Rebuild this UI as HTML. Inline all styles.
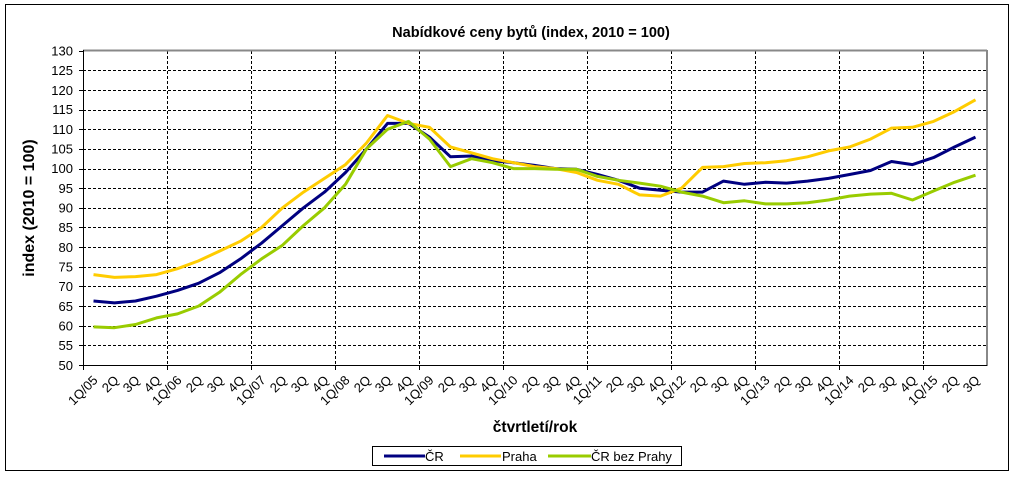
<!DOCTYPE html>
<html><head><meta charset="utf-8"><style>
body{margin:0;background:#fff;}
svg{display:block;font-family:"Liberation Sans",Arial,sans-serif;}
</style></head><body>
<svg width="1015" height="479" viewBox="0 0 1015 479" xmlns="http://www.w3.org/2000/svg">
<rect x="5.5" y="4.5" width="1003" height="466" fill="#fff" stroke="#000" stroke-width="1"/>
<text x="531" y="37" font-size="14.5" font-weight="bold" text-anchor="middle">Nabídkové ceny bytů (index, 2010 = 100)</text>
<g id="grid" stroke="#000" stroke-width="1" stroke-dasharray="3,2"></g>
<line x1="83" y1="50.5" x2="987" y2="50.5" stroke="#888" stroke-width="2"/>
<line x1="987" y1="50" x2="987" y2="366" stroke="#888" stroke-width="2"/>
<line x1="83.5" y1="50" x2="83.5" y2="366" stroke="#000"/>
<line x1="83" y1="365.5" x2="987" y2="365.5" stroke="#000"/>
<g id="ticks" stroke="#000"></g>
<g font-size="13" text-anchor="end">
<text x="73" y="55.5">130</text><text x="73" y="75">125</text><text x="73" y="95">120</text><text x="73" y="114">115</text><text x="73" y="134">110</text><text x="73" y="153.5">105</text><text x="73" y="173">100</text><text x="73" y="193">95</text><text x="73" y="212.5">90</text><text x="73" y="232">85</text><text x="73" y="252">80</text><text x="73" y="271.5">75</text><text x="73" y="291">70</text><text x="73" y="311">65</text><text x="73" y="330.5">60</text><text x="73" y="350">55</text><text x="73" y="370">50</text>
</g>
<text transform="translate(34,208) rotate(-90)" font-size="16" font-weight="bold" text-anchor="middle">index (2010 = 100)</text>
<text x="535" y="432" font-size="15.5" font-weight="bold" text-anchor="middle">čtvrtletí/rok</text>
<g font-size="13" text-anchor="end">
<text transform="translate(98.5,381) rotate(-45)">1Q/05</text>
<text transform="translate(119.5,381) rotate(-45)">2Q</text>
<text transform="translate(140.5,381) rotate(-45)">3Q</text>
<text transform="translate(161.5,381) rotate(-45)">4Q</text>
<text transform="translate(182.5,381) rotate(-45)">1Q/06</text>
<text transform="translate(203.5,381) rotate(-45)">2Q</text>
<text transform="translate(224.5,381) rotate(-45)">3Q</text>
<text transform="translate(245.5,381) rotate(-45)">4Q</text>
<text transform="translate(266.5,381) rotate(-45)">1Q/07</text>
<text transform="translate(287.5,381) rotate(-45)">2Q</text>
<text transform="translate(308.5,381) rotate(-45)">3Q</text>
<text transform="translate(329.5,381) rotate(-45)">4Q</text>
<text transform="translate(350.5,381) rotate(-45)">1Q/08</text>
<text transform="translate(371.5,381) rotate(-45)">2Q</text>
<text transform="translate(392.5,381) rotate(-45)">3Q</text>
<text transform="translate(413.5,381) rotate(-45)">4Q</text>
<text transform="translate(434.5,381) rotate(-45)">1Q/09</text>
<text transform="translate(455.5,381) rotate(-45)">2Q</text>
<text transform="translate(476.5,381) rotate(-45)">3Q</text>
<text transform="translate(497.5,381) rotate(-45)">4Q</text>
<text transform="translate(518.5,381) rotate(-45)">1Q/10</text>
<text transform="translate(539.5,381) rotate(-45)">2Q</text>
<text transform="translate(560.5,381) rotate(-45)">3Q</text>
<text transform="translate(581.5,381) rotate(-45)">4Q</text>
<text transform="translate(602.5,381) rotate(-45)">1Q/11</text>
<text transform="translate(623.5,381) rotate(-45)">2Q</text>
<text transform="translate(644.5,381) rotate(-45)">3Q</text>
<text transform="translate(665.5,381) rotate(-45)">4Q</text>
<text transform="translate(686.5,381) rotate(-45)">1Q/12</text>
<text transform="translate(707.5,381) rotate(-45)">2Q</text>
<text transform="translate(728.5,381) rotate(-45)">3Q</text>
<text transform="translate(749.5,381) rotate(-45)">4Q</text>
<text transform="translate(770.5,381) rotate(-45)">1Q/13</text>
<text transform="translate(791.5,381) rotate(-45)">2Q</text>
<text transform="translate(812.5,381) rotate(-45)">3Q</text>
<text transform="translate(833.5,381) rotate(-45)">4Q</text>
<text transform="translate(854.5,381) rotate(-45)">1Q/14</text>
<text transform="translate(875.5,381) rotate(-45)">2Q</text>
<text transform="translate(896.5,381) rotate(-45)">3Q</text>
<text transform="translate(917.5,381) rotate(-45)">4Q</text>
<text transform="translate(938.5,381) rotate(-45)">1Q/15</text>
<text transform="translate(959.5,381) rotate(-45)">2Q</text>
<text transform="translate(980.5,381) rotate(-45)">3Q</text>
</g>
<g id="lines" fill="none" stroke-width="3" stroke-linejoin="round"></g>
<rect x="372.5" y="446.5" width="309" height="19" fill="#fff" stroke="#000"/>
<line x1="384" y1="456" x2="425" y2="456" stroke="#000080" stroke-width="3"/>
<text x="425" y="461" font-size="13">ČR</text>
<line x1="460" y1="456" x2="501" y2="456" stroke="#ffcc00" stroke-width="3"/>
<text x="502" y="461" font-size="13">Praha</text>
<line x1="548" y1="456" x2="591" y2="456" stroke="#99cc00" stroke-width="3"/>
<text x="591" y="461" font-size="13">ČR bez Prahy</text>
</svg>
<script>
var NS="http://www.w3.org/2000/svg";
function el(t,a,p){var e=document.createElementNS(NS,t);for(var k in a)e.setAttribute(k,a[k]);document.getElementById(p).appendChild(e);return e;}
var x0=83,w=21,yT=50.7,yB=365,Y=function(v){return yB-(v-50)*(yB-yT)/80;};
for(var v=55;v<=125;v+=5)el('line',{x1:83,x2:987,y1:Math.round(Y(v))+.5,y2:Math.round(Y(v))+.5},'grid');
for(var k=1;k<=10;k++)el('line',{x1:x0+84*k+.5,x2:x0+84*k+.5,y1:51,y2:365},'grid');
for(var v=50;v<=130;v+=5)el('line',{x1:79,x2:83,y1:Math.round(Y(v))+.5,y2:Math.round(Y(v))+.5},'ticks');
for(var k=0;k<=10;k++)el('line',{x1:x0+84*k+.5,x2:x0+84*k+.5,y1:365,y2:370},'ticks');
var C=[66.3,65.8,66.3,67.5,69,70.8,73.5,77,81,85.5,90,94,99,105,111.5,111.5,108,103,103.2,102,101.5,100.8,100,99.8,98.5,97,95,94.5,94,94,96.8,96,96.5,96.3,96.8,97.5,98.5,99.5,101.8,101,102.8,105.5,108];
var P=[73,72.3,72.5,73,74.5,76.5,79,81.5,85,90,94,97.5,101,106.5,113.5,111.5,110.5,105.5,104,102.5,101.5,100.5,100,99,97,96,93.3,93,92.5,95,100.3,100.5,101.3,101.5,102,103,104.5,105.5,107.5,110.3,110.5,112,114.5,117.5];
P.splice(28,1);
var G=[59.7,59.5,60.3,62,63,65,68.5,73,77,80.5,85.5,90,96,105,110,112,107.5,100.5,102.5,101.5,100,100,99.8,99.8,98,97,96.3,95.5,94,93,91.3,91.8,91,91,91.3,92,93,93.5,93.7,92,94.3,96.5,98.3];
[[C,'#000080'],[P,'#ffcc00'],[G,'#99cc00']].forEach(function(s){var pts=s[0].map(function(v,i){return (x0+w*(i+.5)).toFixed(1)+','+Y(v).toFixed(1);}).join(' ');el('polyline',{points:pts,stroke:s[1]},'lines');});
</script>
</body></html>
